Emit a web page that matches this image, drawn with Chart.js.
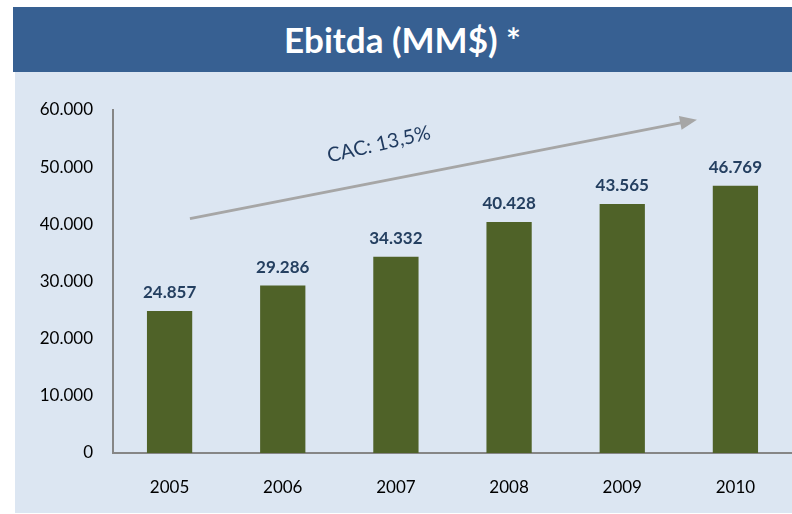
<!DOCTYPE html>
<html>
<head>
<meta charset="utf-8">
<script src="https://cdn.jsdelivr.net/npm/chart.js@4/dist/chart.umd.min.js"></script>
<style>
  html, body { margin: 0; padding: 0; background: #ffffff; }
  body { width: 792px; height: 514px; position: relative; overflow: hidden; }
  #title {
    position: absolute; left: 13px; top: 7px; width: 779px; height: 65px;
    background: #376092; color: #ffffff;
    font: bold 35px Lato, sans-serif; text-align: center; line-height: 65px;
  }
  #panel {
    position: absolute; left: 15px; top: 72px; width: 777px; height: 441px;
    background: #dce6f2;
  }
  #chart { display: block; }
</style>
</head>
<body>
<div id="title">Ebitda (MM$) *</div>
<div id="panel"><canvas id="chart" width="777" height="441"></canvas></div>
<script>
// data
const years = ['2005', '2006', '2007', '2008', '2009', '2010'];
const ebitda = [24857, 29286, 34332, 40428, 43565, 46769];
const yTicks = [0, 10000, 20000, 30000, 40000, 50000, 60000];
const cacLabel = 'CAC: 13,5%';

const fmt = v => v.toString().replace(/\B(?=(\d{3})+(?!\d))/g, '.');

// value labels on top of each bar
const barLabels = {
    id: 'barLabels',
    afterDatasetsDraw(chart) {
        const ctx = chart.ctx;
        const meta = chart.getDatasetMeta(0);
        ctx.save();
        ctx.font = 'bold 17px Lato, sans-serif';
        ctx.fillStyle = '#243f60';
        ctx.textAlign = 'center';
        ctx.textBaseline = 'middle';
        meta.data.forEach((bar, i) => {
            ctx.fillText(fmt(ebitda[i]), bar.x, bar.y - 18);
        });
        ctx.restore();
    }
};

// growth arrow + CAC text
const growthArrow = {
    id: 'growthArrow',
    afterDatasetsDraw(chart) {
        const ctx = chart.ctx;
        const xs = chart.scales.x, ys = chart.scales.y;
        const x0 = xs.getPixelForValue(0.18), y0 = ys.getPixelForValue(41000);
        const x1 = xs.getPixelForValue(4.66), y1 = ys.getPixelForValue(58300);
        const ang = Math.atan2(y1 - y0, x1 - x0);
        ctx.save();
        ctx.strokeStyle = '#a6a6a6';
        ctx.fillStyle = '#a6a6a6';
        ctx.lineWidth = 3;
        ctx.beginPath();
        ctx.moveTo(x0, y0);
        ctx.lineTo(x1 - 14 * Math.cos(ang), y1 - 14 * Math.sin(ang));
        ctx.stroke();
        ctx.translate(x1, y1);
        ctx.rotate(ang);
        ctx.beginPath();
        ctx.moveTo(0, 0);
        ctx.lineTo(-17, -7);
        ctx.lineTo(-17, 7);
        ctx.closePath();
        ctx.fill();
        ctx.restore();

        const tx = xs.getPixelForValue(1.85), ty = ys.getPixelForValue(54000);
        ctx.save();
        ctx.translate(tx, ty);
        ctx.rotate(-13 * Math.PI / 180);
        ctx.font = '20px Lato, sans-serif';
        ctx.fillStyle = '#1f3a5f';
        ctx.textAlign = 'center';
        ctx.textBaseline = 'middle';
        ctx.fillText(cacLabel, 0, 0);
        ctx.restore();
    }
};

new Chart(document.getElementById('chart'), {
    type: 'bar',
    data: {
        labels: years,
        datasets: [{
            data: ebitda,
            backgroundColor: '#4f6228',
            barPercentage: 0.4,
            categoryPercentage: 1
        }]
    },
    options: {
        responsive: false,
        animation: false,
        layout: { padding: { top: 38, right: 0, bottom: 0, left: 0 } },
        plugins: {
            legend: { display: false },
            tooltip: { enabled: false }
        },
        scales: {
            x: {
                grid: { display: false, drawTicks: false },
                border: { color: '#868686', width: 2 },
                ticks: { color: '#000000', font: { family: 'Lato', size: 17 }, padding: 24 },
                afterFit(s) { s.height = 60; }
            },
            y: {
                min: 0,
                max: 60000,
                afterBuildTicks(s) { s.ticks = yTicks.map(v => ({ value: v })); },
                grid: { display: false, drawTicks: false },
                border: { color: '#868686', width: 2 },
                ticks: {
                    color: '#000000',
                    font: { family: 'Lato', size: 17 },
                    padding: 20,
                    callback: v => fmt(v)
                },
                afterFit(s) { s.width = 98; }
            }
        }
    },
    plugins: [barLabels, growthArrow]
});
</script>
</body>
</html>
